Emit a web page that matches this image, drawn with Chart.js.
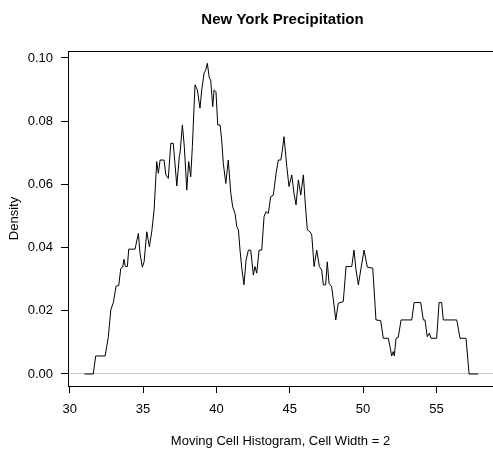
<!DOCTYPE html>
<html><head><meta charset="utf-8">
<script src="https://cdn.jsdelivr.net/npm/chart.js@4/dist/chart.umd.min.js"></script>
<style>html,body{margin:0;padding:0;background:#fff;overflow:hidden}canvas{display:block}</style>
</head><body>
<canvas id="c" width="493" height="452"></canvas>
<script>
const titleText = "New York Precipitation";
const xTitle = "Moving Cell Histogram, Cell Width = 2";
const yTitle = "Density";

const precipitation = [31.0, 31.6, 31.77, 32.41, 32.52, 32.63, 32.80, 32.97, 33.16, 33.34, 33.48, 33.61, 33.70, 33.79, 33.93, 34.02, 34.45, 34.68, 34.79, 34.95, 35.07, 35.25, 35.43, 35.59, 35.75, 35.93, 36.04, 36.16, 36.43, 36.55, 36.65, 36.72, 36.89, 37.06, 37.30, 37.47, 37.52, 37.68, 37.81, 37.98, 38.11, 38.25, 38.36, 38.54, 38.70, 38.88, 39.00, 39.16, 39.27, 39.38, 39.52, 39.61, 39.75, 39.84, 39.97, 40.09, 40.25, 40.36, 40.47, 40.64, 40.81, 40.98, 41.11, 41.27, 41.39, 41.50, 41.61, 41.73, 41.88, 42.02, 42.18, 42.34, 42.52, 42.63, 42.75, 42.91, 43.09, 43.25, 43.38, 43.54, 43.70, 43.88, 44.07, 44.22, 44.39, 44.50, 44.61, 44.80, 44.95, 45.14, 45.29, 45.43, 45.59, 45.75, 45.93, 46.04, 46.20, 46.38, 46.50, 46.66, 46.84, 47.02, 47.18, 47.29, 47.45, 47.56, 47.68, 47.86, 48.02, 48.14, 48.31, 48.65, 48.84, 49.23, 49.38, 49.52, 49.68, 49.84, 50.07, 50.29, 50.66, 50.88, 51.20, 51.38, 51.72, 51.84, 51.95, 52.06, 52.13, 52.25, 52.40, 52.59, 53.32, 53.48, 53.93, 54.11, 54.22, 54.38, 54.52, 54.63, 55.02, 55.18, 55.36, 55.47, 56.39, 56.61, 57.02, 57.23, 57.86];

const density = [0, 0, 0.0057, 0.0057, 0.0086, 0.0118, 0.0203, 0.0226, 0.0278, 0.0280, 0.0334, 0.0338, 0.0363, 0.0340, 0.0340, 0.0395, 0.0395, 0.0445, 0.0382, 0.0338, 0.0355, 0.0450, 0.0403, 0.0450, 0.0519, 0.0672, 0.0635, 0.0677, 0.0677, 0.0630, 0.0624, 0.0619, 0.0730, 0.0730, 0.0595, 0.0688, 0.0699, 0.0788, 0.0720, 0.0582, 0.0672, 0.0624, 0.0720, 0.0915, 0.0899, 0.0841, 0.0899, 0.0952, 0.0962, 0.0983, 0.0936, 0.0930, 0.0846, 0.0899, 0.0893, 0.0788, 0.0788, 0.0740, 0.0667, 0.0603, 0.0677, 0.0572, 0.0529, 0.0508, 0.0466, 0.0456, 0.0392, 0.0334, 0.0282, 0.0360, 0.0392, 0.0392, 0.0313, 0.0340, 0.0319, 0.0392, 0.0392, 0.0498, 0.0514, 0.0508, 0.0561, 0.0566, 0.0635, 0.0677, 0.0677, 0.0709, 0.0751, 0.0656, 0.0593, 0.0630, 0.0572, 0.0535, 0.0614, 0.0566, 0.0630, 0.0551, 0.0456, 0.0450, 0.0440, 0.0340, 0.0392, 0.0340, 0.0329, 0.0282, 0.0282, 0.0355, 0.0287, 0.0276, 0.0218, 0.0171, 0.0224, 0.0229, 0.0340, 0.0340, 0.0392, 0.0329, 0.0282, 0.0329, 0.0392, 0.0338, 0.0335, 0.0171, 0.0169, 0.0113, 0.0113, 0.0086, 0.0057, 0.0071, 0.0057, 0.0113, 0.0116, 0.0171, 0.0171, 0.0226, 0.0226, 0.0171, 0.0171, 0.0118, 0.0129, 0.0113, 0.0113, 0.0226, 0.0226, 0.0171, 0.0171, 0.0113, 0.0113, 0, 0];

const xTicks = [30, 35, 40, 45, 50, 55];
const yTicks = [0, 0.02, 0.04, 0.06, 0.08, 0.10];
const xRange = [29.88, 58.86];
const yRange = [-0.0038, 0.1022];

const FONT = '"Liberation Sans", Arial, Helvetica, sans-serif';
const n = Math.min(precipitation.length, density.length);
const points = [];
for (let i = 0; i < n; i++) points.push({x: precipitation[i], y: density[i]});

const titlePlugin = {
  id: 'plotTitle',
  afterDraw(chart) {
    const {ctx, chartArea} = chart;
    ctx.save();
    ctx.font = 'bold 15px ' + FONT;
    ctx.fillStyle = '#000';
    ctx.textAlign = 'center';
    ctx.textBaseline = 'alphabetic';
    ctx.fillText(titleText, (chartArea.left + chartArea.right) / 2 + 2, 24);
    ctx.restore();
  }
};

new Chart(document.getElementById('c'), {
  type: 'line',
  data: {
    datasets: [{
      data: points,
      borderColor: '#000',
      borderWidth: 1,
      pointRadius: 0,
      tension: 0,
      fill: false
    }]
  },
  options: {
    responsive: false,
    animation: false,
    layout: {padding: {top: 51, left: 0, right: 0, bottom: 0}},
    plugins: {legend: {display: false}, tooltip: {enabled: false}, title: {display: false}},
    scales: {
      x: {
        type: 'linear', position: 'bottom',
        min: xRange[0], max: xRange[1],
        afterBuildTicks: a => { a.ticks = xTicks.map(v => ({value: v})); },
        afterFit: s => { s.height = 66; },
        grid: {drawOnChartArea: false, drawTicks: true, tickLength: 7, tickColor: '#000', tickWidth: 1},
        border: {display: true, color: '#000', width: 1},
        ticks: {padding: 9, color: '#000', font: {family: FONT, size: 13}, maxRotation: 0, autoSkip: false, callback: v => String(v)},
        title: {display: true, text: xTitle, color: '#000', font: {family: FONT, size: 13}, padding: {top: 0, bottom: 3}}
      },
      xTop: {
        type: 'linear', position: 'top',
        min: xRange[0], max: xRange[1],
        afterFit: s => { s.height = 0; },
        grid: {display: false, drawTicks: false},
        ticks: {display: false},
        border: {display: true, color: '#000', width: 1}
      },
      y: {
        type: 'linear', position: 'left',
        min: yRange[0], max: yRange[1],
        afterBuildTicks: a => { a.ticks = yTicks.map(v => ({value: v})); },
        afterFit: s => { s.width = 68; },
        grid: {
          drawOnChartArea: true, drawTicks: true, tickLength: 7, tickColor: '#000', tickWidth: 1,
          color: c => (c.tick && c.tick.value === 0) ? '#c8c8c8' : 'rgba(0,0,0,0)',
          lineWidth: 1
        },
        border: {display: true, color: '#000', width: 1},
        ticks: {padding: 8, color: '#000', font: {family: FONT, size: 13}, autoSkip: false, callback: v => v.toFixed(2)},
        title: {display: true, text: yTitle, color: '#000', font: {family: FONT, size: 13}, padding: {top: 6.7, bottom: 0}}
      }
    }
  },
  plugins: [titlePlugin]
});
</script>
</body></html>
